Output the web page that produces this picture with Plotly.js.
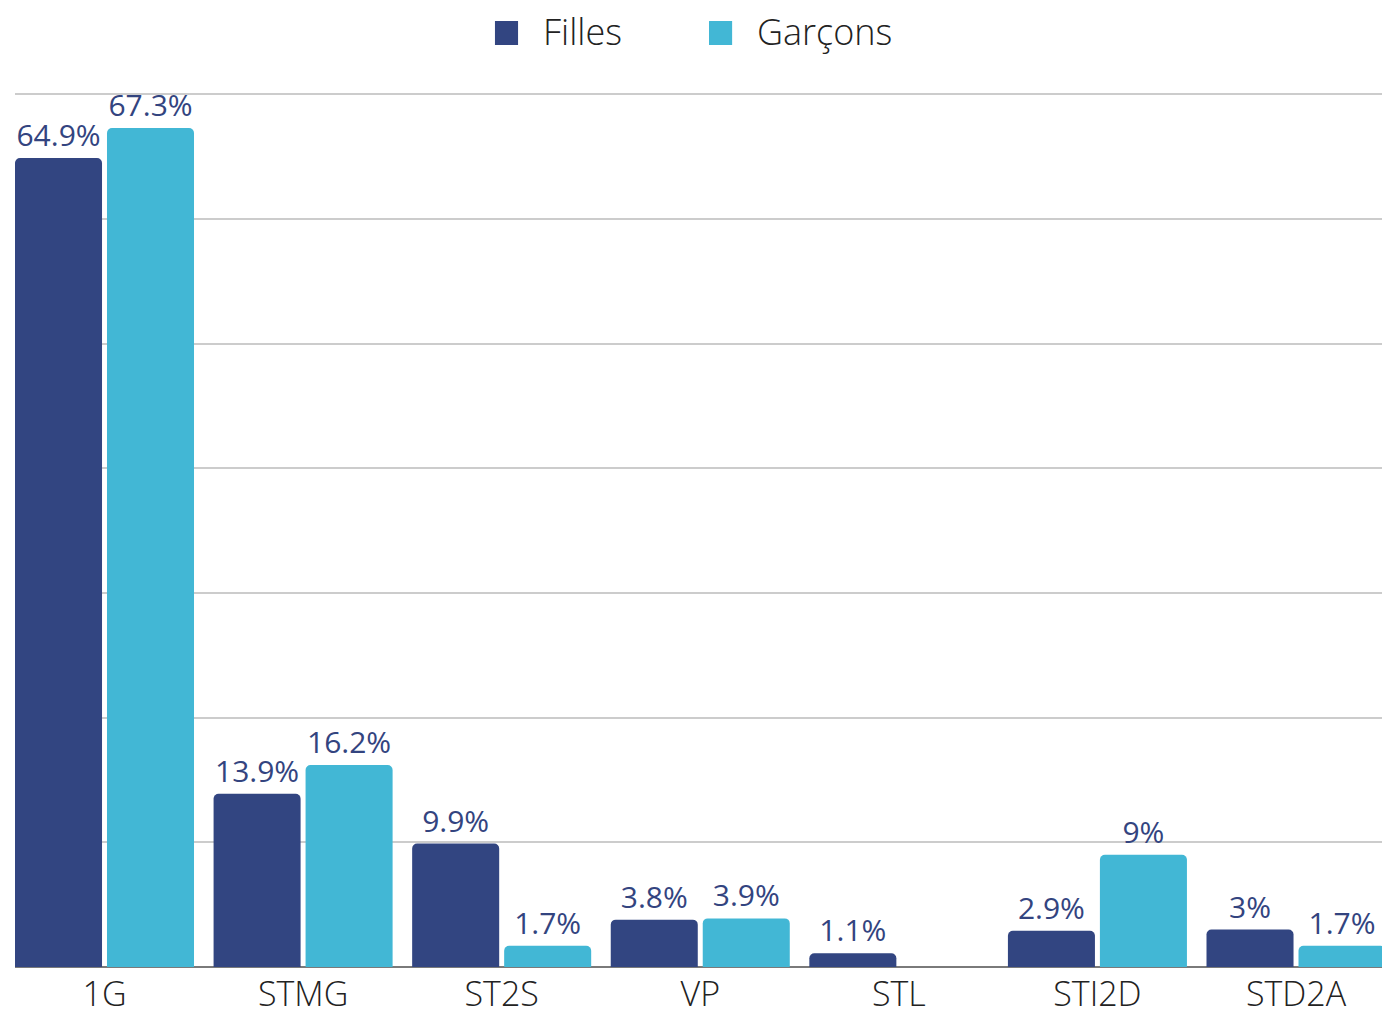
<!DOCTYPE html>
<html>
<head>
<meta charset="utf-8">
<script src="https://cdn.plot.ly/plotly-3.0.1.min.js"></script>
<style>
html,body{margin:0;padding:0;background:#fff;}
#chart{width:1382px;height:1019px;}
</style>
</head>
<body>
<div id="chart"></div>
<script>
const categories = ["1G", "STMG", "ST2S", "VP", "STL", "STI2D", "STD2A"];
const filles = [64.9, 13.9, 9.9, 3.8, 1.1, 2.9, 3.0];
const garcons = [67.3, 16.2, 1.7, 3.9, 0, 9.0, 1.7];
const seriesNames = ["Filles", "Garçons"];
const colors = ["#324581", "#42b7d5"];

function labels(vals) {
  return vals.map(v => v === 0 ? "" : (Math.round(v * 10) / 10) + "%");
}

const labelFont = {family: "Open Sans", size: 30, color: "#33447f"};
const textFont = {family: "Open Sans", size: 36, color: "#222222", weight: 300};

const traces = [
  {
    type: "bar", x: categories, y: filles, name: seriesNames[0],
    marker: {color: colors[0], cornerradius: 5},
    text: labels(filles), textposition: "outside", cliponaxis: false,
    textfont: labelFont, showlegend: false, hoverinfo: "skip"
  },
  {
    type: "bar", x: categories, y: garcons, name: seriesNames[1],
    marker: {color: colors[1], cornerradius: 5},
    text: labels(garcons), textposition: "outside", cliponaxis: false,
    textfont: labelFont, showlegend: false, hoverinfo: "skip"
  }
];

// Custom legend (larger swatches than Plotly's built-in legend allows)
const legendX = [0.3511, 0.5077];
const shapes = seriesNames.map((n, i) => ({
  type: "rect", xref: "paper", yref: "paper",
  x0: legendX[i], x1: legendX[i] + 0.0169, y0: 1.0418, y1: 1.0689,
  fillcolor: colors[i], line: {width: 0}
}));
const annotations = seriesNames.map((n, i) => ({
  xref: "paper", yref: "paper", x: legendX[i] + 0.0337, y: 1.0565,
  xanchor: "left", yanchor: "middle", showarrow: false,
  text: n, font: textFont
}));

const layout = {
  width: 1382, height: 1019,
  margin: {l: 15, r: 0, t: 82, b: 52},
  paper_bgcolor: "#ffffff", plot_bgcolor: "#ffffff",
  barmode: "group", bargap: 0.0735, bargroupgap: 0.054,
  showlegend: false,
  shapes: shapes,
  annotations: annotations,
  xaxis: {
    type: "category", range: [-0.4507, 6.433], fixedrange: true,
    showgrid: false, showline: false, ticks: "", ticklabelstandoff: 4,
    tickfont: {family: "Open Sans", size: 34, color: "#222222", weight: 300}
  },
  yaxis: {
    range: [0, 71], dtick: 10, showticklabels: false, ticks: "",
    showgrid: true, gridcolor: "#cccccc", gridwidth: 2,
    zeroline: true, zerolinecolor: "#7a7a7a", zerolinewidth: 2, fixedrange: true
  }
};

Plotly.newPlot("chart", traces, layout, {displayModeBar: false, staticPlot: true});
</script>
</body>
</html>
